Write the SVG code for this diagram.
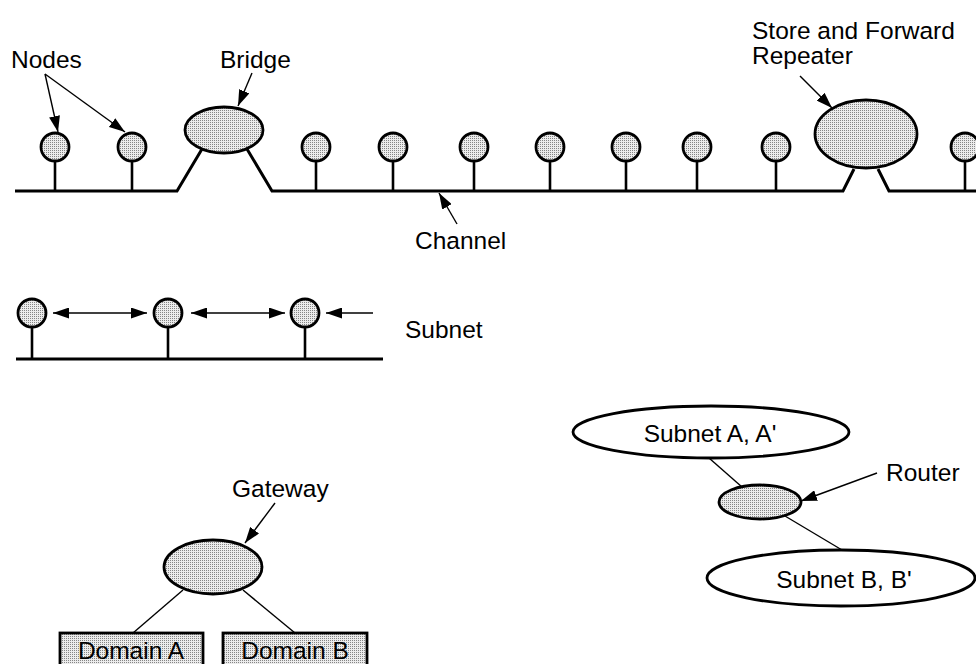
<svg xmlns="http://www.w3.org/2000/svg" width="976" height="664" viewBox="0 0 976 664">
  <defs>
    <!-- fine stipple used to shade nodes, bridges, gateways -->
    <pattern id="stipple" width="2" height="2" patternUnits="userSpaceOnUse">
      <rect width="2" height="2" fill="#ececec"/>
      <rect width="1" height="1" fill="#858585"/>
    </pattern>
    <marker id="arrow" viewBox="0 0 16 11" markerWidth="16" markerHeight="11" refX="16" refY="5.5" orient="auto-start-reverse" markerUnits="userSpaceOnUse">
      <path d="M0,0 L16,5.5 L0,11 z" fill="#000"/>
    </marker>
    <style>
      .lbl { font-family: "Liberation Sans", Arial, Helvetica, sans-serif; font-size: 24.5px; fill: #000; }
      .node { fill: url(#stipple); stroke: #000; stroke-width: 2.8; }
      .plain { fill: #fff; stroke: #000; stroke-width: 2.8; }
      .bus { fill: none; stroke: #000; stroke-width: 3; stroke-linejoin: miter; }
      .stem { stroke: #000; stroke-width: 2.6; }
      .ptr { stroke: #000; stroke-width: 1.4; fill: none; marker-end: url(#arrow); }
      .link { stroke: #000; stroke-width: 1.4; fill: none; }
    </style>
  </defs>

  <!-- channel / network bus -->
  <g id="channel">
    <path class="bus" d="M15,191 H177 L202,149 M247,149 L272,191 H843 L854,169 M878,169 L889,191 H976"/>
  </g>

  <!-- nodes on the channel -->
  <g id="nodes-top">
    <g id="node1"><line class="stem" x1="55" y1="161" x2="55" y2="191"/><circle class="node" cx="55" cy="147" r="14"/></g>
    <g id="node2"><line class="stem" x1="132" y1="161" x2="132" y2="191"/><circle class="node" cx="132" cy="147" r="14"/></g>
    <g id="node3"><line class="stem" x1="316" y1="161" x2="316" y2="191"/><circle class="node" cx="316" cy="147" r="14"/></g>
    <g id="node4"><line class="stem" x1="393" y1="161" x2="393" y2="191"/><circle class="node" cx="393" cy="147" r="14"/></g>
    <g id="node5"><line class="stem" x1="474" y1="161" x2="474" y2="191"/><circle class="node" cx="474" cy="147" r="14"/></g>
    <g id="node6"><line class="stem" x1="550" y1="161" x2="550" y2="191"/><circle class="node" cx="550" cy="147" r="14"/></g>
    <g id="node7"><line class="stem" x1="626" y1="161" x2="626" y2="191"/><circle class="node" cx="626" cy="147" r="14"/></g>
    <g id="node8"><line class="stem" x1="697" y1="161" x2="697" y2="191"/><circle class="node" cx="697" cy="147" r="14"/></g>
    <g id="node9"><line class="stem" x1="776" y1="161" x2="776" y2="191"/><circle class="node" cx="776" cy="147" r="14"/></g>
    <g id="node10"><line class="stem" x1="965" y1="161" x2="965" y2="191"/><circle class="node" cx="965" cy="147" r="14"/></g>
  </g>

  <g id="bridge">
    <ellipse class="node" cx="224" cy="130" rx="39" ry="23"/>
  </g>

  <g id="repeater">
    <ellipse class="node" cx="866" cy="134" rx="51" ry="34"/>
  </g>

  <!-- subnet row -->
  <g id="subnet-bus">
    <line class="bus" x1="16" y1="359" x2="383" y2="359"/>
  </g>
  <g id="subnode1"><line class="stem" x1="32" y1="327" x2="32" y2="359"/><circle class="node" cx="32" cy="313" r="14"/></g>
  <g id="subnode2"><line class="stem" x1="168" y1="327" x2="168" y2="359"/><circle class="node" cx="168" cy="313" r="14"/></g>
  <g id="subnode3"><line class="stem" x1="305" y1="327" x2="305" y2="359"/><circle class="node" cx="305" cy="313" r="14"/></g>

  <!-- gateway and domains -->
  <g id="gateway">
    <ellipse class="node" cx="213" cy="567" rx="49" ry="27"/>
  </g>
  <g id="domain-a">
    <rect class="node" x="60" y="633" width="143" height="40"/>
    <text class="lbl" x="131" y="659" text-anchor="middle">Domain A</text>
  </g>
  <g id="domain-b">
    <rect class="node" x="223" y="633" width="144" height="40"/>
    <text class="lbl" x="295" y="659" text-anchor="middle">Domain B</text>
  </g>

  <!-- router and subnets -->
  <g id="subnet-a">
    <ellipse class="plain" cx="711" cy="432" rx="138" ry="26"/>
    <text class="lbl" x="710" y="442" text-anchor="middle">Subnet A, A'</text>
  </g>
  <g id="router">
    <ellipse class="node" cx="760" cy="502" rx="41" ry="17"/>
  </g>
  <g id="subnet-b">
    <ellipse class="plain" cx="841" cy="578" rx="134" ry="28"/>
    <text class="lbl" x="844" y="588" text-anchor="middle">Subnet B, B'</text>
  </g>

  <!-- connectors and pointers -->
  <g id="connectors">
    <line class="ptr" x1="45" y1="74" x2="58" y2="132"/>
    <line class="ptr" x1="45" y1="74" x2="125" y2="132"/>
    <line class="ptr" x1="252" y1="73" x2="238" y2="106"/>
    <line class="ptr" x1="800" y1="76" x2="832" y2="108"/>
    <line class="ptr" x1="457" y1="224" x2="439" y2="193"/>

    <line class="ptr" x1="53" y1="313" x2="147" y2="313" marker-start="url(#arrow)"/>
    <line class="ptr" x1="191" y1="313" x2="285" y2="313" marker-start="url(#arrow)"/>
    <line class="ptr" x1="373" y1="313" x2="326" y2="313"/>

    <line class="ptr" x1="275" y1="503" x2="245" y2="543"/>
    <line class="link" x1="183" y1="590" x2="133" y2="633"/>
    <line class="link" x1="243" y1="590" x2="295" y2="633"/>

    <line class="link" x1="709" y1="458" x2="742" y2="487"/>
    <line class="link" x1="785" y1="516" x2="842" y2="550"/>
    <line class="ptr" x1="877" y1="473" x2="801" y2="501"/>
  </g>

  <!-- labels -->
  <g id="labels">
    <text class="lbl" x="11" y="68">Nodes</text>
    <text class="lbl" x="220" y="68">Bridge</text>
    <text class="lbl" x="752" y="39">Store and Forward</text>
    <text class="lbl" x="752" y="64">Repeater</text>
    <text class="lbl" x="415" y="249">Channel</text>
    <text class="lbl" x="405" y="338">Subnet</text>
    <text class="lbl" x="232" y="497">Gateway</text>
    <text class="lbl" x="886" y="481">Router</text>
  </g>
</svg>
